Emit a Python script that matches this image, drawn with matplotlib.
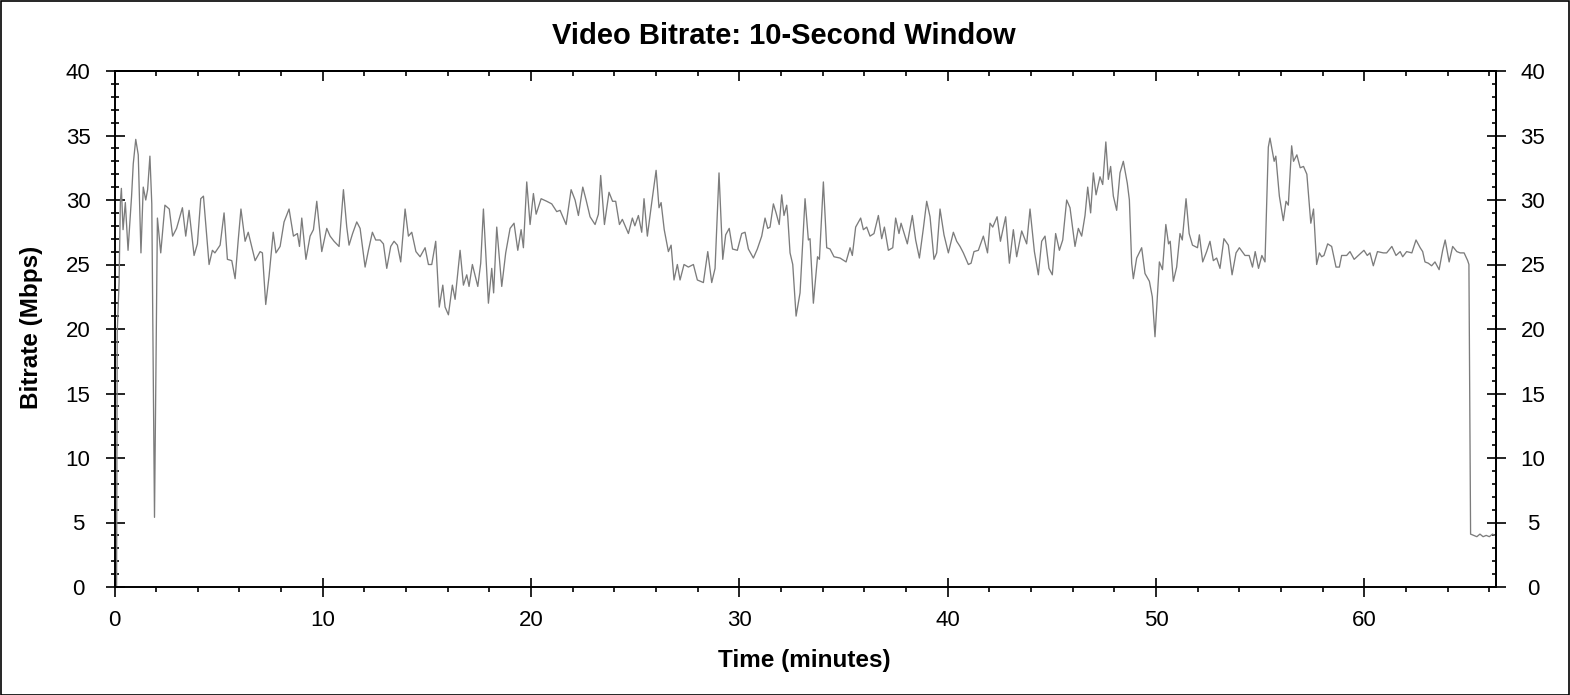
import matplotlib
matplotlib.use('Agg')
import matplotlib.pyplot as plt
from matplotlib.ticker import MultipleLocator
from matplotlib.patches import Rectangle

# ---------------- data ----------------
time_min = [
    0.10, 0.13, 0.22, 0.28, 0.33, 0.41, 0.52, 0.65, 0.82, 0.90, 1.02, 1.14, 1.27, 1.38, 1.50,
    1.59, 1.70, 1.79, 1.92, 2.06, 2.22, 2.42, 2.63, 2.79, 2.98, 3.26, 3.42, 3.58, 3.82, 3.98,
    4.14, 4.27, 4.54, 4.70, 4.82, 5.07, 5.26, 5.42, 5.63, 5.79, 5.94, 6.07, 6.27, 6.42, 6.75,
    6.99, 7.10, 7.26, 7.42, 7.62, 7.75, 7.95, 8.14, 8.38, 8.59, 8.78, 8.88, 8.99, 9.19, 9.39,
    9.55, 9.71, 9.95, 10.19, 10.35, 10.54, 10.78, 10.99, 11.15, 11.26, 11.43, 11.63, 11.79,
    12.03, 12.19, 12.38, 12.54, 12.75, 12.91, 13.07, 13.26, 13.42, 13.58, 13.74, 13.95, 14.11,
    14.27, 14.47, 14.67, 14.91, 15.07, 15.23, 15.42, 15.59, 15.76, 15.87, 16.03, 16.22, 16.35,
    16.59, 16.75, 16.91, 17.02, 17.18, 17.44, 17.58, 17.71, 17.84, 17.95, 18.11, 18.20, 18.35,
    18.59, 18.78, 18.99, 19.18, 19.36, 19.52, 19.63, 19.79, 19.95, 20.11, 20.24, 20.48, 20.75,
    20.99, 21.23, 21.39, 21.68, 21.92, 22.11, 22.27, 22.48, 22.64, 22.83, 23.07, 23.23, 23.34,
    23.52, 23.74, 23.91, 24.06, 24.24, 24.38, 24.67, 24.86, 24.98, 25.15, 25.31, 25.42, 25.58,
    25.79, 26.00, 26.14, 26.24, 26.39, 26.59, 26.72, 26.86, 27.02, 27.15, 27.34, 27.55, 27.79,
    27.98, 28.27, 28.48, 28.67, 28.83, 29.02, 29.20, 29.34, 29.51, 29.67, 29.90, 30.11, 30.27,
    30.43, 30.67, 30.86, 31.07, 31.23, 31.36, 31.47, 31.63, 31.76, 31.91, 32.03, 32.14, 32.27,
    32.32, 32.43, 32.56, 32.72, 32.91, 33.15, 33.31, 33.39, 33.55, 33.75, 33.84, 34.03, 34.19,
    34.35, 34.54, 34.83, 35.12, 35.31, 35.42, 35.58, 35.82, 35.95, 36.11, 36.27, 36.46, 36.67,
    36.83, 36.96, 37.15, 37.36, 37.50, 37.66, 37.76, 38.06, 38.30, 38.46, 38.64, 38.83, 38.99,
    39.15, 39.34, 39.47, 39.63, 39.82, 40.03, 40.27, 40.43, 40.59, 40.75, 40.99, 41.12, 41.26,
    41.47, 41.71, 41.91, 42.03, 42.16, 42.37, 42.53, 42.78, 42.96, 43.15, 43.31, 43.55, 43.79,
    43.95, 44.16, 44.35, 44.51, 44.67, 44.86, 45.02, 45.18, 45.36, 45.52, 45.71, 45.87, 46.11,
    46.27, 46.43, 46.59, 46.72, 46.86, 46.99, 47.12, 47.31, 47.44, 47.59, 47.71, 47.82, 47.95,
    48.11, 48.27, 48.43, 48.62, 48.72, 48.83, 48.91, 49.07, 49.31, 49.47, 49.68, 49.82, 49.95,
    50.16, 50.31, 50.47, 50.60, 50.68, 50.83, 50.99, 51.15, 51.26, 51.44, 51.59, 51.75, 51.99,
    52.08, 52.24, 52.43, 52.59, 52.75, 52.91, 53.07, 53.26, 53.47, 53.65, 53.84, 54.00, 54.27,
    54.47, 54.63, 54.76, 54.92, 55.08, 55.23, 55.39, 55.47, 55.67, 55.75, 55.92, 56.11, 56.24,
    56.35, 56.51, 56.60, 56.76, 56.92, 57.08, 57.24, 57.43, 57.56, 57.71, 57.84, 57.95, 58.06,
    58.24, 58.43, 58.64, 58.80, 58.91, 59.15, 59.31, 59.51, 59.71, 59.98, 60.14, 60.27, 60.43,
    60.63, 60.91, 61.07, 61.32, 61.52, 61.72, 61.84, 62.03, 62.28, 62.48, 62.68, 62.80, 62.91,
    63.07, 63.23, 63.39, 63.59, 63.76, 63.88, 64.07, 64.24, 64.44, 64.60, 64.79, 64.96, 65.02,
    65.10, 65.25, 65.40, 65.55, 65.70, 65.85, 66.00, 66.15, 66.27,
]
bitrate_mbps = [
    0.0, 19.7, 23.6, 29.8, 30.9, 27.7, 29.8, 26.1, 30.3, 32.8, 34.7, 33.5, 25.9, 31.0, 30.0,
    30.8, 33.4, 29.7, 5.4, 28.6, 25.9, 29.6, 29.3, 27.2, 27.8, 29.4, 27.2, 29.2, 25.7, 26.6,
    30.1, 30.3, 25.0, 26.1, 25.9, 26.5, 29.0, 25.4, 25.3, 23.9, 26.9, 29.3, 26.8, 27.5, 25.3,
    26.0, 25.9, 21.9, 24.1, 27.5, 25.9, 26.4, 28.3, 29.3, 27.2, 27.4, 26.4, 28.6, 25.4, 27.2,
    27.7, 29.9, 26.0, 27.8, 27.2, 26.8, 26.4, 30.8, 27.9, 26.5, 27.4, 28.3, 27.8,
    24.8, 26.1, 27.5, 26.9, 26.9, 26.6, 24.7, 26.4, 26.8, 26.5, 25.2, 29.3, 27.2,
    27.5, 26.0, 25.6, 26.3, 25.0, 25.0, 26.8, 21.7, 23.4, 21.7, 21.1, 23.4, 22.3,
    26.1, 23.4, 24.2, 23.3, 25.0, 23.3, 25.1, 29.3, 25.4, 22.0, 24.7, 22.8, 27.9,
    23.3, 25.9, 27.8, 28.2, 26.1, 27.7, 26.3, 31.4, 28.1, 30.5, 28.9, 30.1, 29.9,
    29.7, 29.1, 29.2, 28.1, 30.8, 30.0, 28.8, 31.0, 30.0, 28.7, 28.1, 28.9, 31.9,
    28.1, 30.6, 29.9, 29.9, 28.1, 28.5, 27.4, 28.6, 28.0, 28.8, 27.5, 30.1, 27.2,
    29.8, 32.3, 29.4, 29.8, 27.7, 26.0, 26.5, 23.8, 25.0, 23.8, 25.0, 24.8, 25.0,
    23.8, 23.6, 26.0, 23.6, 24.7, 32.1, 25.4, 27.3, 27.8, 26.2, 26.1, 27.4, 27.5,
    26.2, 25.5, 26.2, 27.2, 28.6, 27.8, 27.9, 29.7, 29.0, 28.1, 30.4, 28.8, 29.6,
    28.7, 25.9, 25.0, 21.0, 22.8, 30.1, 26.9, 27.0, 22.0, 25.6, 25.4, 31.4, 26.3,
    26.2, 25.6, 25.5, 25.2, 26.3, 25.7, 27.9, 28.6, 27.7, 27.9, 27.2, 27.4, 28.8,
    27.0, 27.9, 26.1, 26.3, 28.6, 27.4, 28.2, 26.6, 28.8, 26.9, 25.5, 27.8, 29.9,
    28.7, 25.4, 25.9, 29.3, 27.3, 25.9, 27.5, 26.8, 26.4, 25.9, 25.0, 25.1, 26.0,
    26.1, 27.2, 25.9, 28.2, 27.9, 28.7, 26.8, 28.7, 25.1, 27.7, 25.6, 27.6, 26.6,
    29.3, 26.0, 24.2, 26.8, 27.2, 24.7, 24.2, 27.4, 26.1, 26.9, 30.0, 29.4, 26.4,
    27.8, 27.2, 28.8, 31.0, 29.0, 32.1, 30.4, 31.8, 31.2, 34.5, 31.6, 32.6, 30.3,
    29.2, 32.1, 33.0, 31.3, 30.0, 25.1, 23.9, 25.5, 26.3, 24.3, 23.7, 22.5, 19.4,
    25.2, 24.6, 28.1, 26.6, 26.8, 23.7, 24.8, 27.4, 26.9, 30.1, 27.4, 26.5, 26.3,
    27.3, 25.2, 26.0, 26.8, 25.3, 25.5, 24.7, 27.0, 26.5, 24.2, 25.9, 26.3, 25.7,
    25.7, 24.8, 26.0, 24.7, 25.7, 25.2, 34.1, 34.8, 33.0, 33.4, 30.3, 28.4, 29.9,
    29.6, 34.2, 33.0, 33.5, 32.5, 32.6, 32.0, 28.2, 29.3, 25.0, 25.9, 25.6, 25.7,
    26.6, 26.4, 24.8, 24.8, 25.7, 25.7, 26.0, 25.4, 25.7, 26.1, 25.7, 25.9, 24.9,
    26.0, 25.9, 25.9, 26.4, 25.7, 26.0, 25.6, 26.0, 25.9, 26.9, 26.3, 26.0, 25.2,
    25.1, 24.9, 25.2, 24.6, 26.1, 26.9, 25.2, 26.4, 26.0, 25.9, 25.9, 25.3, 25.0,
    4.1, 4.0, 3.9, 4.1, 3.9, 4.0, 3.9, 4.1, 4.0,
]

x_major_ticks = [0, 10, 20, 30, 40, 50, 60]
y_major_ticks = [0, 5, 10, 15, 20, 25, 30, 35, 40]
title_text = "Video Bitrate: 10-Second Window"
xlabel_text = "Time (minutes)"
ylabel_text = "Bitrate (Mbps)"

# ---------------- styling ----------------
plt.rcParams['font.family'] = ['Liberation Sans', 'DejaVu Sans']
W, H = 1570, 695
PX = 0.72  # points per pixel at dpi 100

fig = plt.figure(figsize=(W / 100, H / 100), dpi=100)
fig.patch.set_facecolor('white')

left_px, right_px, top_px, bottom_px = 114.5, 1496, 71, 587
ax = fig.add_axes([left_px / W, 1 - bottom_px / H,
                   (right_px - left_px) / W, (bottom_px - top_px) / H])

ax.plot(time_min, bitrate_mbps, color='#7c7c7c', lw=0.95, solid_joinstyle='round')
ax.set_xlim(0, 66.32)
ax.set_ylim(0, 40)

for s in ax.spines.values():
    s.set_linewidth(1.4)
    s.set_color('black')

tick_font = 16
major_len = 19 * PX

ax.set_xticks(x_major_ticks)
ax.xaxis.set_minor_locator(MultipleLocator(2))
ax.set_yticks(y_major_ticks)
ax.yaxis.set_minor_locator(MultipleLocator(1))

ax.tick_params(axis='x', which='major', direction='inout', length=major_len, width=1.2,
               labelsize=tick_font, pad=10, top=False, bottom=True)
ax.tick_params(axis='x', which='minor', direction='out', length=5 * PX, width=1.2,
               top=False, bottom=True)
ax.tick_params(axis='y', which='major', direction='inout', length=major_len, width=1.2,
               labelsize=tick_font, pad=19.4, right=False, left=True)
ax.tick_params(axis='y', which='minor', direction='inout', length=8 * PX, width=1.2,
               right=False, left=True)
plt.setp(ax.get_yticklabels(), ha='center')

# top axis: inward ticks, no labels
axt = ax.secondary_xaxis('top')
axt.set_xticks(x_major_ticks)
axt.xaxis.set_minor_locator(MultipleLocator(2))
axt.tick_params(axis='x', which='major', direction='in', length=10 * PX, width=1.2,
                labeltop=False)
axt.tick_params(axis='x', which='minor', direction='in', length=5 * PX, width=1.2)
axt.spines['top'].set_linewidth(1.4)

# right axis: labels centered
axr = ax.secondary_yaxis('right')
axr.set_yticks(y_major_ticks)
axr.yaxis.set_minor_locator(MultipleLocator(1))
axr.tick_params(axis='y', which='major', direction='inout', length=major_len, width=1.2,
                labelsize=tick_font, pad=19.7)
axr.tick_params(axis='y', which='minor', direction='in', length=4.5 * PX, width=1.2)
axr.spines['right'].set_linewidth(1.4)
plt.setp(axr.get_yticklabels(), ha='center')

fig.text(784 / W, 1 - 44 / H, title_text, ha='center', va='baseline',
         fontsize=21, fontweight='bold')
fig.text(804 / W, 1 - 667 / H, xlabel_text, ha='center', va='baseline',
         fontsize=17.5, fontweight='bold')
fig.text(32 / W, 1 - 327 / H, ylabel_text, ha='center', va='center', rotation=90,
         fontsize=17.5, fontweight='bold')

fig.patches.append(Rectangle((0.5 / W, 0.5 / H), 1 - 1.5 / W, 1 - 1.5 / H,
                             transform=fig.transFigure, fill=False,
                             edgecolor='black', lw=1.2))

fig.savefig('out.png', dpi=100, facecolor='white')
